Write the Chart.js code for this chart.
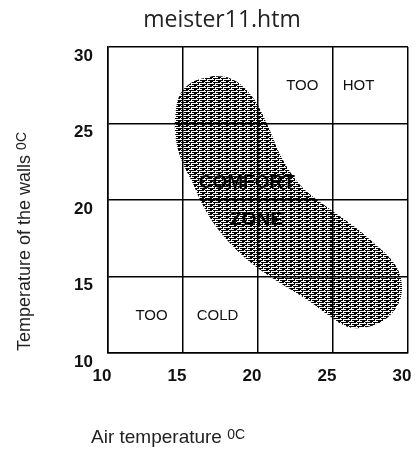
<!DOCTYPE html>
<html>
<head>
<meta charset="utf-8">
<script src="https://cdn.jsdelivr.net/npm/chart.js@4"></script>
<style>
    html, body { margin: 0; padding: 0; background: #fff; }
    #wrap { width: 417px; height: 450px; }
</style>
</head>
<body>
<div id="wrap"><canvas id="comfortChart" width="417" height="450"></canvas></div>
<script>
// Axis ticks (deg C)
const airTicks = [10, 15, 20, 25, 30];
const wallTicks = [10, 15, 20, 25, 30];

// Outline of the comfort zone (air temp, wall temp)
const zoneAir = [17.0, 18.0, 18.9, 19.8, 20.4, 20.9, 21.4, 22.3, 23.3, 24.8, 26.5, 27.7, 28.7, 29.4, 29.6, 29.3,
    28.5, 27.3, 26.0, 24.8, 23.4, 22.1, 20.8, 19.4, 18.2, 17.1, 16.3, 15.6, 14.9, 14.5, 14.5, 14.8, 15.6, 17.0];
const zoneWall = [28.1, 28.0, 27.5, 26.5, 25.4, 24.3, 23.1, 21.6, 20.5, 19.4, 18.2, 17.2, 16.3, 15.3, 14.1, 13.1,
    12.2, 11.7, 11.7, 12.4, 13.4, 14.2, 15.0, 16.0, 17.1, 18.4, 19.7, 21.2, 22.6, 24.1, 25.7, 26.9, 27.7, 28.1];

// Region labels
const labelText = ["TOO", "HOT", "TOO", "COLD"];
const labelAir = [22.95, 26.7, 12.9, 17.3];
const labelWall = [27.45, 27.45, 12.4, 12.4];
const zoneText = ["COMFORT", "ZONE"];
const zoneTextAir = [19.25, 19.9];
const zoneTextWall = [21.1, 18.7];

const chartTitle = "meister11.htm";

// Halftone fill like the scanned original
function makeHalftone() {
    const c = document.createElement("canvas");
    c.width = 8;
    c.height = 4;
    const g = c.getContext("2d");
    g.fillStyle = "#000";
    g.fillRect(0, 0, 7, 1);
    g.fillRect(2, 1, 3, 1);
    g.fillRect(0, 2, 4, 1);
    g.fillRect(5, 2, 3, 1);
    g.fillRect(6, 3, 1, 1);
    return g.createPattern(c, "repeat");
}

// Title, axis titles with the raised "0C" and the text labels in the plot
const annotations = {
    id: "annotations",
    afterDatasetsDraw(chart) {
        const ctx = chart.ctx;
        const xs = chart.scales.x;
        const ys = chart.scales.y;
        ctx.save();
        ctx.fillStyle = "#111";
        ctx.textAlign = "center";
        ctx.textBaseline = "middle";
        ctx.font = "15px 'Liberation Sans', Arial, sans-serif";
        labelText.forEach((t, i) => {
            ctx.fillText(t, xs.getPixelForValue(labelAir[i]), ys.getPixelForValue(labelWall[i]));
        });
        ctx.font = "bold 19px 'Liberation Sans', Arial, sans-serif";
        ctx.fillStyle = "#000";
        zoneText.forEach((t, i) => {
            ctx.fillText(t, xs.getPixelForValue(zoneTextAir[i]), ys.getPixelForValue(zoneTextWall[i]));
        });
        ctx.restore();
    },
    afterDraw(chart) {
        const ctx = chart.ctx;
        ctx.save();
        ctx.fillStyle = "#222";
        ctx.textBaseline = "alphabetic";

        // chart title
        ctx.textAlign = "center";
        ctx.font = "23px 'Open Sans', sans-serif";
        ctx.fillText(chartTitle, 222, 27);

        ctx.textAlign = "left";
        function titleWithUnit(text, x, y) {
            ctx.font = "19px 'Liberation Sans', Arial, sans-serif";
            ctx.fillText(text, x, y);
            const w = ctx.measureText(text).width;
            ctx.font = "14px 'Liberation Sans', Arial, sans-serif";
            ctx.fillText("0C", x + w, y - 4);
        }

        // x axis title
        titleWithUnit("Air temperature ", 91, 443);

        // y axis title, rotated
        ctx.translate(30, 351);
        ctx.rotate(-Math.PI / 2);
        ctx.font = "18px 'Liberation Sans', Arial, sans-serif";
        ctx.fillText("Temperature of the walls ", 0, 0);
        const w = ctx.measureText("Temperature of the walls ").width;
        ctx.font = "14px 'Liberation Sans', Arial, sans-serif";
        ctx.fillText("0C", w, -4);
        ctx.restore();
    }
};

document.addEventListener("DOMContentLoaded", function () {
    const ctx = document.getElementById("comfortChart").getContext("2d");
    const zonePoints = zoneAir.map((a, i) => ({ x: a, y: zoneWall[i] }));

    new Chart(ctx, {
        type: "scatter",
        data: {
            datasets: [{
                label: "Comfort zone",
                data: zonePoints,
                showLine: true,
                fill: "shape",
                backgroundColor: makeHalftone(),
                borderWidth: 0,
                borderColor: "rgba(0,0,0,0)",
                pointRadius: 0,
                tension: 0.35
            }]
        },
        options: {
            responsive: false,
            animation: false,
            layout: {
                padding: { left: 0, right: 9, top: 47, bottom: 0 }
            },
            plugins: {
                legend: { display: false },
                tooltip: { enabled: false },
                title: { display: false }
            },
            scales: {
                x: {
                    type: "linear",
                    min: airTicks[0],
                    max: airTicks[airTicks.length - 1],
                    afterBuildTicks: (scale) => {
                        scale.ticks = airTicks.map((v) => ({ value: v }));
                    },
                    afterFit: (scale) => {
                        scale.height = 97;
                        scale.paddingLeft = 0;
                        scale.paddingRight = 0;
                    },
                    grid: {
                        color: "#000",
                        lineWidth: 1.5,
                        drawTicks: false
                    },
                    border: { color: "#000", width: 1.5 },
                    ticks: {
                        color: "#111",
                        padding: 13,
                        labelOffset: -6,
                        maxRotation: 0,
                        font: { family: "'Liberation Sans', Arial, sans-serif", size: 17, weight: "bold" }
                    }
                },
                y: {
                    type: "linear",
                    min: wallTicks[0],
                    max: wallTicks[wallTicks.length - 1],
                    afterBuildTicks: (scale) => {
                        scale.ticks = wallTicks.map((v) => ({ value: v }));
                    },
                    afterFit: (scale) => {
                        scale.width = 108;
                        scale.paddingTop = 0;
                        scale.paddingBottom = 0;
                    },
                    grid: {
                        color: "#000",
                        lineWidth: 1.5,
                        drawTicks: false
                    },
                    border: { color: "#000", width: 1.5 },
                    ticks: {
                        color: "#111",
                        padding: 15,
                        labelOffset: 9,
                        font: { family: "'Liberation Sans', Arial, sans-serif", size: 17, weight: "bold" }
                    }
                }
            }
        },
        plugins: [annotations]
    });
});
</script>
</body>
</html>
